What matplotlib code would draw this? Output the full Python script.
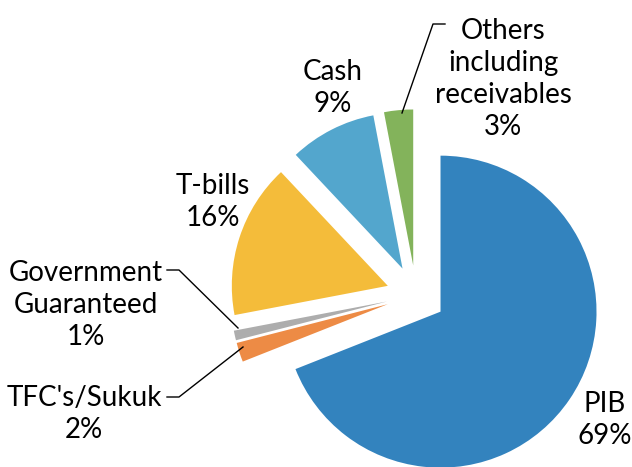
import matplotlib.pyplot as plt

# portfolio allocation (percent)
labels = ['PIB', "TFC's/Sukuk", 'Government\nGuaranteed', 'T-bills', 'Cash',
          'Others\nincluding\nreceivables']
values = [69, 2, 1, 16, 9, 3]
colors = ['#3383BE', '#ED8B45', '#ADADAD', '#F4BC3A', '#53A6CD', '#83B35B']

plt.rcParams['font.family'] = ['Lato', 'DejaVu Sans']

W, H = 632, 467
cx, cy, R = 416, 295, 156   # pie centre / radius in pixels


def px(x, y):
    # pixel position (from top-left) -> data coords
    return (x - cx) / R, (cy - y) / R


fig = plt.figure(figsize=(W / 100, H / 100), dpi=100)
ax = fig.add_axes([0, 0, 1, 1])

wedges, _ = ax.pie(values, colors=colors, startangle=90, counterclock=False,
                   explode=[0.19] * len(values), radius=1,
                   wedgeprops=dict(linewidth=0))

ax.set_xlim(-cx / R, (W - cx) / R)
ax.set_ylim(-(H - cy) / R, cy / R)
ax.set_aspect('equal')
ax.axis('off')

# label text positions (pixel centres)
label_pos = [(605, 420), (84, 414), (86, 305), (213, 202), (333, 88), (503, 79)]
for lab, v, pos in zip(labels, values, label_pos):
    x, y = px(*pos)
    ax.text(x, y, f"{lab}\n{v}%", ha='center', va='center', fontsize=20,
            linespacing=1.3)

# leader lines for the small slices
leaders = [
    (1, [(167, 397), (179, 397)], (243, 347)),
    (2, [(167, 270), (179, 270)], (238, 328)),
    (5, [(445, 24), (433, 24)], (402, 113)),
]
for idx, pts, end in leaders:
    xs, ys = zip(*[px(*p) for p in pts + [end]])
    ax.plot(xs, ys, color='black', lw=1)

fig.savefig('out.png', dpi=100)
